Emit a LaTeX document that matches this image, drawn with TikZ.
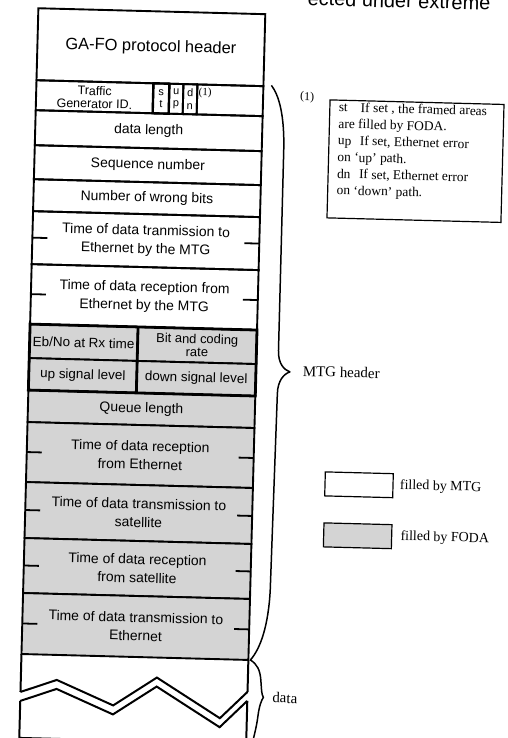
\documentclass[tikz,border=0pt]{standalone}
\usepackage{fontspec}
\setmainfont{Liberation Serif}
\newfontfamily\sansfnt{Liberation Sans}
\tikzset{
  every node/.style={inner sep=0pt, outer sep=0pt},
  cell/.style={draw, line width=1.9pt, anchor=north west, minimum width=227bp,
    align=center, font=\sansfnt\fontsize{14}{18.5}\selectfont},
  foda/.style={fill=black!17},
  frame/.style={line width=2.8pt},
  tick/.style={line width=1.8pt},
  brace/.style={line width=1.5pt, line join=round},
  zig/.style={line width=2pt, line join=miter},
  small/.style={font=\sansfnt\fontsize{12.5}{13}\selectfont, align=center},
  tiny/.style={font=\sansfnt\fontsize{11}{12.5}\selectfont, align=center},
  note/.style={font=\fontsize{13.5}{16.7}\selectfont, align=left, anchor=north west},
  legbox/.style={draw, line width=1.2pt, anchor=north west, minimum width=68bp, minimum height=24bp},
  legtext/.style={font=\fontsize{14}{16}\selectfont, anchor=west},
}
\begin{document}
\begin{tikzpicture}[x=1bp, y=-1bp]
\fill[white] (0,0) rectangle (508,738);
\useasboundingbox (0,0) rectangle (508,738);
\begin{scope}[rotate around={-1.5:(254,369)}, transform shape]
% stray page text at top
\node[anchor=base west, font=\sansfnt\fontsize{20}{20}\selectfont] (pagetxt) at (298,4) {ected under extreme};

% column
\node[cell, minimum height=72bp] (hdr) at (29,14) {};
\node[font=\sansfnt\fontsize{16.5}{20}\selectfont] (hdrtxt) at (hdr.center) {GA-FO protocol header};

\node[cell, minimum width=117bp, minimum height=30bp] (tg) at (29,86) {};
\node[cell, minimum width=16bp, minimum height=30bp, line width=2.4pt] (stc) at (146,86) {};
\node[cell, minimum width=14bp, minimum height=30bp] (upc) at (162,86) {};
\node[cell, minimum width=14bp, minimum height=30bp] (dnc) at (176,86) {};
\node[cell, minimum width=66bp, minimum height=30bp] (rest) at (190,86) {};
\node[small] (tgtxt) at (87.5,101.5) {Traffic\\Generator ID.};
\node[tiny] (sttxt) at (stc.center) {s\\t};
\node[tiny] (uptxt) at (upc.center) {u\\p};
\node[tiny] (dntxt) at (dnc.center) {d\\n};
\node[anchor=north west, font=\fontsize{11}{12}\selectfont] (fnmark) at (191.5,89) {(1)};

\node[cell, minimum height=35bp] (dl) at (29,116) {data length};
\node[cell, minimum height=34bp] (sq) at (29,151) {Sequence number};
\node[cell, minimum height=32bp] (wb) at (29,185) {Number of wrong bits};
\node[cell, minimum height=53bp] (tm) at (29,217) {Time of data tranmission to\\Ethernet by the MTG};
\node[cell, minimum height=60bp] (rm) at (29,270) {Time of data reception from\\Ethernet by the MTG};
\node[cell, foda, minimum width=108bp, minimum height=34bp, font=\sansfnt\fontsize{13.5}{14}\selectfont] (eba) at (29,330) {Eb/No at Rx time};
\node[cell, foda, minimum width=119bp, minimum height=34bp, font=\sansfnt\fontsize{13}{13.5}\selectfont] (ebb) at (137,330) {Bit and coding\\rate};
\node[cell, foda, minimum width=108bp, minimum height=32bp, font=\sansfnt\fontsize{13.5}{14}\selectfont] (upa) at (29,364) {up signal level};
\node[cell, foda, minimum width=119bp, minimum height=32bp, font=\sansfnt\fontsize{13.5}{14}\selectfont] (upb) at (137,364) {down signal level};
\node[cell, foda, minimum height=32bp] (ql) at (29,396) {Queue length};
\node[cell, foda, minimum height=60bp] (re) at (29,428) {Time of data reception\\from Ethernet};
\node[cell, foda, minimum height=56bp] (ts) at (29,488) {Time of data transmission to\\satellite};
\node[cell, foda, minimum height=55bp] (rs) at (29,544) {Time of data reception\\from satellite};
\node[cell, foda, minimum height=61bp] (te) at (29,599) {Time of data transmission to\\Ethernet};

% framed areas
\draw[frame] (eba.north west) rectangle (upb.south east);
\draw[frame] (eba.north east) -- (upa.south east);

% side ticks
\foreach \n in {tm,rm,re,ts,rs,te}{
  \draw[tick] (\n.west) -- +(15,0);
  \draw[tick] (\n.east) -- +(-15,0);
}

% data part with break
\coordinate (zl1) at (29,698);
\coordinate (zr1) at (256,692);
\coordinate (zl2) at (29,707);
\coordinate (zr2) at (256,701);
\coordinate (bl) at (29,744);
\coordinate (br) at (256,744);
\draw[zig] (te.south west) -- (zl1);
\draw[zig] (te.south east) -- (zr1);
\draw[zig] (zl2) -- (bl) -- (br) -- (zr2);
\draw[zig] (zl1) -- (65,685) -- (122,709) -- (165,680) -- (229,719) -- (zr1);
\draw[zig] (zl2) -- (65,694) -- (122,718) -- (165,689) -- (229,728) -- (zr2);

% braces
\draw[brace] (264,85) .. controls (272,95) and (278,115) .. (278,150)
  -- (278,350) .. controls (278,363) and (284,369) .. (290,371)
  .. controls (284,373) and (278,380) .. (278,393)
  -- (276,590) .. controls (275,625) and (268,648) .. (258,660);
\draw[brace] (258,660) .. controls (265,664) and (268,670) .. (269,680)
  .. controls (270,690) and (270,694) .. (272,697)
  .. controls (270,700) and (268,706) .. (267,716)
  .. controls (266,726) and (264,734) .. (262,744);
\node[anchor=west, font=\fontsize{15}{16}\selectfont] (mtglab) at (303,370) {MTG header};
\node[anchor=west, font=\fontsize{15}{16}\selectfont] (datalab) at (281,697) {data};

% footnote box
\node[font=\fontsize{12}{12}\selectfont] (fnlab) at (300,96) {(1)};
\node[draw, line width=1.2pt, anchor=north west, minimum width=174bp, minimum height=118bp] (notebox) at (323,98) {};
\node[note] (notetxt) at (332,100) {\makebox[22bp][l]{st}If set , the framed areas\\
are filled by FODA.\\
\makebox[22bp][l]{up}If set, Ethernet error\\
on `up' path.\\
\makebox[22bp][l]{dn}If set, Ethernet error\\
on `down' path.};

% legend
\node[legbox] (legmtg) at (328,470) {};
\node[legbox, foda] (legfoda) at (328,521) {};
\node[legtext] (legmtgt) at (403,482) {filled by MTG};
\node[legtext] (legfodat) at (405,533) {filled by FODA};
\end{scope}
\end{tikzpicture}
\end{document}
